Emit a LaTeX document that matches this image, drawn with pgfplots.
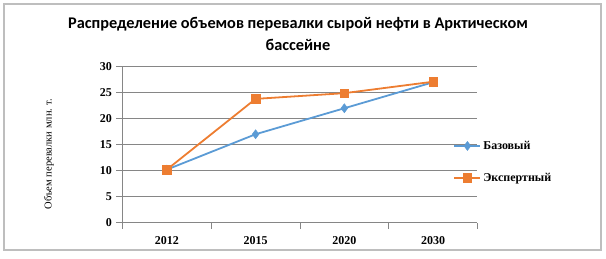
\documentclass[border=0pt]{standalone}
\usepackage{pgfplots}
\pgfplotsset{compat=1.18}
\usepackage{fontspec}
\setmainfont{Liberation Serif}
\newfontfamily\titlefont{Carlito}
\definecolor{cblue}{RGB}{91,155,213}
\definecolor{corange}{RGB}{237,125,49}
\definecolor{cgrid}{RGB}{134,134,134}
\begin{document}
\begin{tikzpicture}[x=1pt,y=1pt]
\useasboundingbox (0,0) rectangle (606,258);
\draw[draw={rgb,255:red,190;green,190;blue,190},line width=1.2pt] (4,8) rectangle (601,254);
\node[font=\titlefont\bfseries\fontsize{16.3}{18}\selectfont] at (298,234) {Распределение объемов перевалки сырой нефти в Арктическом};
\node[font=\titlefont\bfseries\fontsize{16.3}{18}\selectfont] at (298,213) {бассейне};
\node[rotate=90,font=\fontsize{10.5}{12}\selectfont] at (49,104) {Объем перевалки млн. т.};
\begin{axis}[
  name=ax,
  at={(138,68)}, anchor=south west,
  width=355pt, height=156pt, scale only axis,
  xmin=-0.5, xmax=3.5, ymin=0, ymax=30,
  xtick={0,1,2,3}, xticklabels={2012,2015,2020,2030},
  minor xtick={-0.5,0.5,1.5,2.5,3.5},
  ytick={0,5,...,30},
  major x tick style={draw=none},
  tick align=outside,
  tickwidth=6pt, subtickwidth=6pt,
  tick style={cgrid, line width=0.6pt},
  axis line style={cgrid, line width=0.6pt},
  axis x line*=bottom, axis y line*=left,
  ymajorgrids, grid style={cgrid, line width=0.6pt},
  /pgf/number format/assume math mode=true,
  ticklabel style={font=\bfseries\fontsize{12}{14}\selectfont},
  xticklabel style={yshift=-4pt},
  yticklabel style={xshift=-1pt},
  clip=false,
  legend style={draw=none, fill=none, at={(0.932,0.39)}, anchor=west,
    font=\bfseries\fontsize{12}{14}\selectfont, row sep=18pt,
    inner sep=0pt},
  legend cell align=left,
  legend image code/.code={\draw[#1, mark repeat=2, mark phase=2] plot coordinates {(0pt,0pt) (13pt,0pt) (26pt,0pt)};},
]
\addplot[cblue, line width=1.8pt, mark=diamond*, mark size=4.5pt, mark options={solid, line width=0.5pt}]
  coordinates {(0,10.2) (1,17.0) (2,22.0) (3,27.0)};
\addlegendentry{Базовый}
\addplot[corange, line width=1.8pt, mark=square*, mark size=4.2pt, mark options={solid, line width=0.5pt}]
  coordinates {(0,10.2) (1,23.8) (2,24.9) (3,27.1)};
\addlegendentry{Экспертный}
\end{axis}
\end{tikzpicture}
\end{document}
